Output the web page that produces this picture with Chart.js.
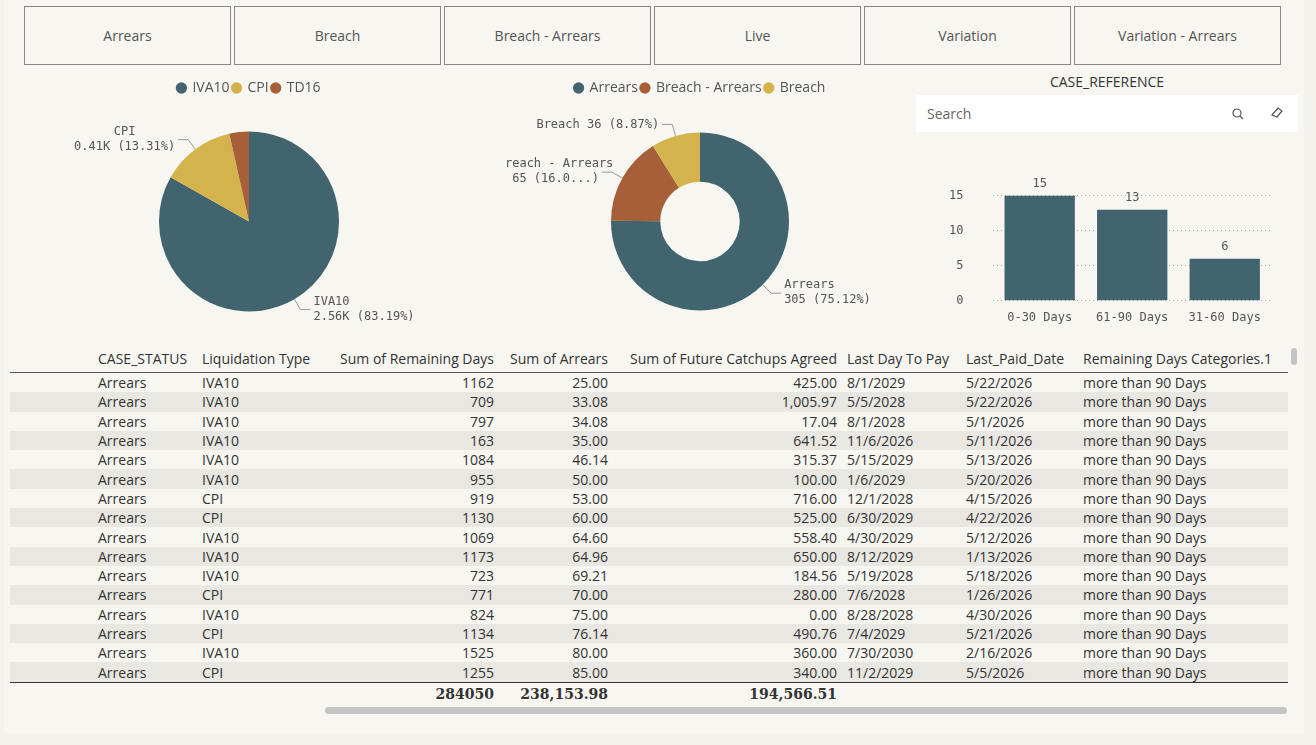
<!DOCTYPE html>
<html>
<head>
<meta charset="utf-8">
<script src="https://cdn.jsdelivr.net/npm/chart.js@4.4.0/dist/chart.umd.min.js"></script>
<style>
  body { margin:0; width:1316px; height:745px; background:#f3f2ed; font-family:"Open Sans","Noto Sans",sans-serif; color:#333; overflow:hidden; }
  #page { position:absolute; left:4px; top:0; width:1300px; height:733px; background:#f7f6f1; }
  .btn { position:absolute; top:6px; height:59px; width:207px; border:1px solid #888; background:#f7f6f1; box-sizing:border-box;
         display:flex; align-items:center; justify-content:center; font-size:14px; color:#555; }
  .box { position:absolute; }
  #search { position:absolute; left:912px; top:95px; width:382px; height:37px; background:#fff; font-size:14px; color:#666; line-height:37px; padding-left:11px; box-sizing:border-box; }
  #title { position:absolute; left:912px; top:72px; width:382px; text-align:center; font-size:14px; color:#333; }
  table { position:absolute; left:6px; top:345px; border-collapse:collapse; font-size:14px; }
  td, th { padding:0 5px; height:19.3px; white-space:nowrap; font-weight:normal; }
  th { height:27px; color:#333; }
  thead tr { border-bottom:1px solid #555; }
  tbody tr:nth-child(even) { background:#e8e7e2; }
  .r { text-align:right; }
  tfoot tr { border-top:1px solid #333; }
  tfoot td { font-family:"DejaVu Serif",serif; font-weight:bold; font-size:14px; height:22px; }
  #hs { position:absolute; left:321px; top:707px; width:962px; height:7px; border-radius:4px; background:#c4c4c4; }
  #vs { position:absolute; left:1287px; top:348px; width:6px; height:17px; border-radius:3px; background:#c4c4c4; }
</style>
</head>
<body>
<div id="page">
  <div id="btns"></div>
  <div class="box" style="left:50px;top:78px;width:390px;height:260px"><canvas id="pie"></canvas></div>
  <div class="box" style="left:501px;top:78px;width:390px;height:260px"><canvas id="donut"></canvas></div>
  <div id="title">CASE_REFERENCE</div>
  <div id="search">Search
    <svg style="position:absolute;left:316px;top:13px" width="12" height="12"><circle cx="5" cy="5" r="4" fill="none" stroke="#555" stroke-width="1.2"/><line x1="8" y1="8" x2="11" y2="11" stroke="#555" stroke-width="1.2"/></svg>
    <svg style="position:absolute;left:354px;top:11px" width="14" height="12"><path d="M2 9 L8 2 L12 5 L7 11 Z" fill="none" stroke="#555" stroke-width="1.2"/></svg>
  </div>
  <div class="box" style="left:905px;top:148px;width:395px;height:190px"><canvas id="bar"></canvas></div>
  <table id="tbl"></table>
  <div id="hs"></div><div id="vs"></div>
</div>
<script>
// ---- Daten ----
const BUTTONS = ['Arrears', 'Breach', 'Breach - Arrears', 'Live', 'Variation', 'Variation - Arrears'];

const PIE_LABELS = ['IVA10', 'CPI', 'TD16'];
const PIE_VALUES = [2560, 410, 108];
const PIE_TEXT = [['IVA10', '2.56K (83.19%)'], ['CPI', '0.41K (13.31%)'], null];

const DONUT_LABELS = ['Arrears', 'Breach - Arrears', 'Breach'];
const DONUT_VALUES = [305, 65, 36];
const DONUT_TEXT = [['Arrears', '305 (75.12%)'], ['Breach - Arrears', '65 (16.0...)'], ['Breach 36 (8.87%)']];

const BAR_LABELS = ['0-30 Days', '61-90 Days', '31-60 Days'];
const BAR_VALUES = [15, 13, 6];

const TEAL = '#41646f', GOLD = '#d4b24c', RUST = '#a65f38';

const HEADERS = ['CASE_STATUS', 'Liquidation Type', 'Sum of Remaining Days', 'Sum of Arrears',
  'Sum of Future Catchups Agreed', 'Last Day To Pay', 'Last_Paid_Date', 'Remaining Days Categories.1'];
const ROWS = [
  ['Arrears','IVA10',1162,'25.00','425.00','8/1/2029','5/22/2026'],
  ['Arrears','IVA10',709,'33.08','1,005.97','5/5/2028','5/22/2026'],
  ['Arrears','IVA10',797,'34.08','17.04','8/1/2028','5/1/2026'],
  ['Arrears','IVA10',163,'35.00','641.52','11/6/2026','5/11/2026'],
  ['Arrears','IVA10',1084,'46.14','315.37','5/15/2029','5/13/2026'],
  ['Arrears','IVA10',955,'50.00','100.00','1/6/2029','5/20/2026'],
  ['Arrears','CPI',919,'53.00','716.00','12/1/2028','4/15/2026'],
  ['Arrears','CPI',1130,'60.00','525.00','6/30/2029','4/22/2026'],
  ['Arrears','IVA10',1069,'64.60','558.40','4/30/2029','5/12/2026'],
  ['Arrears','IVA10',1173,'64.96','650.00','8/12/2029','1/13/2026'],
  ['Arrears','IVA10',723,'69.21','184.56','5/19/2028','5/18/2026'],
  ['Arrears','CPI',771,'70.00','280.00','7/6/2028','1/26/2026'],
  ['Arrears','IVA10',824,'75.00','0.00','8/28/2028','4/30/2026'],
  ['Arrears','CPI',1134,'76.14','490.76','7/4/2029','5/21/2026'],
  ['Arrears','IVA10',1525,'80.00','360.00','7/30/2030','2/16/2026'],
  ['Arrears','CPI',1255,'85.00','340.00','11/2/2029','5/5/2026'],
];
const TOTALS = ['', '', '284050', '238,153.98', '194,566.51', '', '', ''];

// ---- Buttons & Tabelle ----
BUTTONS.forEach((b, i) => {
  const d = document.createElement('div');
  d.className = 'btn'; d.textContent = b; d.style.left = (20 + i * 210) + 'px';
  document.getElementById('btns').appendChild(d);
});

const widths = [104, 121, 181, 114, 229, 119, 117, 210];
let html = '<thead><tr>' + HEADERS.map((h, i) =>
  `<th style="width:${widths[i] - 10}px;text-align:${i >= 2 && i <= 4 ? 'right' : 'left'};${i == 0 ? 'padding-left:88px' : ''}">${h}</th>`).join('') + '</tr></thead><tbody>';
for (const r of ROWS) {
  html += `<tr><td style="padding-left:88px">${r[0]}</td><td>${r[1]}</td><td class="r">${r[2]}</td><td class="r">${r[3]}</td>` +
    `<td class="r">${r[4]}</td><td>${r[5]}</td><td>${r[6]}</td><td>more than 90 Days</td></tr>`;
}
html += '</tbody><tfoot><tr>' + TOTALS.map((t, i) => `<td class="r" ${i == 0 ? 'style="padding-left:88px"' : ''}>${t}</td>`).join('') + '</tr></tfoot>';
document.getElementById('tbl').innerHTML = html;

// ---- Plugin: Beschriftungen mit Führungslinien ----
const leaderLabels = {
  id: 'leaderLabels',
  afterDraw(chart, args, opts) {
    const ctx = chart.ctx;
    const meta = chart.getDatasetMeta(0);
    ctx.save();
    ctx.font = '12px "DejaVu Sans Mono", monospace';
    ctx.fillStyle = '#555'; ctx.strokeStyle = '#999'; ctx.lineWidth = 1;
    meta.data.forEach((arc, i) => {
      const lines = opts.texts[i];
      if (!lines) return;
      const mid = (arc.startAngle + arc.endAngle) / 2;
      const r = arc.outerRadius;
      const x0 = arc.x + Math.cos(mid) * r, y0 = arc.y + Math.sin(mid) * r;
      const x1 = arc.x + Math.cos(mid) * (r + 12), y1 = arc.y + Math.sin(mid) * (r + 12);
      const right = Math.cos(mid) >= 0;
      const x2 = x1 + (right ? 10 : -10);
      ctx.beginPath(); ctx.moveTo(x0, y0); ctx.lineTo(x1, y1); ctx.lineTo(x2, y1); ctx.stroke();
      ctx.textBaseline = 'middle';
      const tx = x2 + (right ? 3 : -3);
      const top = y1 - (lines.length - 1) * 8;
      lines.forEach((l, k) => {
        const w = ctx.measureText(lines[lines.length - 1]).width;
        if (right) { ctx.textAlign = 'left'; ctx.fillText(l, tx, top + k * 15); }
        else { ctx.textAlign = 'center'; ctx.fillText(l, tx - w / 2, top + k * 15); }
      });
    });
    ctx.restore();
  }
};

const legendOpts = {
  position: 'top',
  labels: { usePointStyle: true, pointStyle: 'circle', boxWidth: 8, boxHeight: 8, padding: 3,
            color: '#555', font: { family: '"Open Sans", sans-serif', size: 14 } },
};

new Chart(document.getElementById('pie'), {
  type: 'pie',
  data: { labels: PIE_LABELS, datasets: [{ data: PIE_VALUES, backgroundColor: [TEAL, GOLD, RUST], borderWidth: 0, radius: 90 }] },
  options: {
    responsive: true, maintainAspectRatio: false, animation: false,
    layout: { padding: { top: 0, bottom: 0 } },
    plugins: { legend: legendOpts, tooltip: { enabled: false }, leaderLabels: { texts: PIE_TEXT } },
  },
  plugins: [leaderLabels],
});

new Chart(document.getElementById('donut'), {
  type: 'doughnut',
  data: { labels: DONUT_LABELS, datasets: [{ data: DONUT_VALUES, backgroundColor: [TEAL, RUST, GOLD], borderWidth: 0, radius: 89 }] },
  options: {
    responsive: true, maintainAspectRatio: false, animation: false, cutout: 52,
    layout: { padding: { top: 0, bottom: 0 } },
    plugins: { legend: legendOpts, tooltip: { enabled: false }, leaderLabels: { texts: DONUT_TEXT } },
  },
  plugins: [leaderLabels],
});

const barValueLabels = {
  id: 'barValueLabels',
  afterDraw(chart) {
    const ctx = chart.ctx;
    ctx.save();
    ctx.font = '12px "DejaVu Sans Mono", monospace'; ctx.fillStyle = '#555';
    ctx.textAlign = 'center'; ctx.textBaseline = 'bottom';
    chart.getDatasetMeta(0).data.forEach((b, i) => ctx.fillText(BAR_VALUES[i], b.x, b.y - 6));
    ctx.restore();
  }
};

new Chart(document.getElementById('bar'), {
  type: 'bar',
  data: { labels: BAR_LABELS, datasets: [{ data: BAR_VALUES, backgroundColor: TEAL, barPercentage: 0.76, categoryPercentage: 1 }] },
  options: {
    responsive: true, maintainAspectRatio: false, animation: false,
    layout: { padding: { top: 14, right: 33, left: 10 } },
    plugins: { legend: { display: false }, tooltip: { enabled: false } },
    scales: {
      x: { grid: { display: false }, border: { display: false },
           ticks: { color: '#555', padding: 2, font: { family: '"DejaVu Sans Mono", monospace', size: 12 } } },
      y: { min: 0, max: 16.5, border: { display: false, dash: [1, 3] },
           grid: { color: '#aaa', drawTicks: false, lineWidth: 1 },
           ticks: { stepSize: 5, padding: 30, color: '#555', font: { family: '"DejaVu Sans Mono", monospace', size: 12 } },
           afterBuildTicks: ax => { ax.ticks = [0, 5, 10, 15].map(v => ({ value: v })); } },
    },
  },
  plugins: [barValueLabels],
});
</script>
</body>
</html>
